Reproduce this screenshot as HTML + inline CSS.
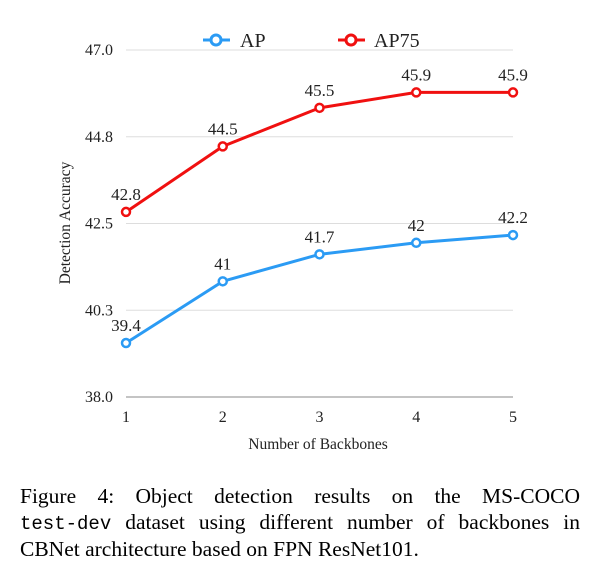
<!DOCTYPE html>
<html><head><meta charset="utf-8"><style>
body{margin:0;background:#fff;width:601px;height:587px;overflow:hidden}
svg text{font-family:"Liberation Serif",serif;fill:#222}
.cap{position:absolute;left:20px;top:484px;width:560px;font-family:"Liberation Serif",serif;font-size:21.5px;line-height:25.5px;color:#000}
.cap div{text-align:justify;text-align-last:justify;white-space:nowrap}
.cap div.last{text-align-last:left}
.mono{font-family:"Liberation Mono",monospace;font-size:19px}
</style></head><body>
<svg id="chart" width="601" height="470" style="position:absolute;left:0;top:0">
<g id="grid"></g>
<g id="yt"></g>
<g id="xt"></g>
<text transform="translate(70,223) rotate(-90)" text-anchor="middle" font-size="15.5">Detection Accuracy</text>
<text x="318" y="449" text-anchor="middle" font-size="15.5">Number of Backbones</text>
<g id="series"></g>
<g>
<g><line x1="203" y1="40" x2="230" y2="40" stroke="#2b9bf4" stroke-width="3"/><circle cx="216" cy="40" r="5" fill="#fff" stroke="#2b9bf4" stroke-width="3"/><text x="240" y="47" font-size="20">AP</text></g>
<g><line x1="338" y1="40" x2="365" y2="40" stroke="#f01010" stroke-width="3"/><circle cx="351" cy="40" r="5" fill="#fff" stroke="#f01010" stroke-width="3"/><text x="374" y="47" font-size="20">AP75</text></g>
</g>
</svg>
<div class="cap"><div>Figure 4: Object detection results on the MS-COCO</div><div><span class="mono">test-dev</span> dataset using different number of backbones in</div><div class="last">CBNet architecture based on FPN ResNet101.</div></div>
<script>
const categories=[1,2,3,4,5];
const apValues=[39.4,41,41.7,42,42.2];
const ap75Values=[42.8,44.5,45.5,45.9,45.9];
const yTicks=[38.0,40.25,42.5,44.75,47.0];
const yTickLabels=["38.0","40.3","42.5","44.8","47.0"];
const NS="http://www.w3.org/2000/svg";
const x0=126,x1=513,yBot=397,yTop=50,yMin=38,yMax=47;
const xs=v=>x0+(v-1)/(5-1)*(x1-x0);
const ys=v=>yBot-(v-yMin)/(yMax-yMin)*(yBot-yTop);
function mk(t,a,p){const e=document.createElementNS(NS,t);for(const k in a)e.setAttribute(k,a[k]);p.appendChild(e);return e;}
const grid=document.getElementById('grid'),yt=document.getElementById('yt'),xt=document.getElementById('xt'),ser=document.getElementById('series');
yTicks.forEach((v,i)=>{
 const l=mk('line',{x1:x0,x2:x1,y1:ys(v),y2:ys(v),stroke:i==0?'#888':'#ddd','stroke-width':1},grid);
 
 
 const t=mk('text',{x:113,y:ys(v)+5,'text-anchor':'end','font-size':16},yt);t.textContent=yTickLabels[i];
 
 
});
categories.forEach(c=>{
 const t=mk('text',{x:xs(c),y:422,'text-anchor':'middle','font-size':16},xt);t.textContent=c;
 
 
});
function draw(vals,color,name){
 const g=mk('g',{},ser);
 
 
 const p=mk('polyline',{points:vals.map((v,i)=>xs(categories[i])+','+ys(v)).join(' '),fill:'none',stroke:color,'stroke-width':3,'stroke-linejoin':'round'},g);
 
 
 vals.forEach((v,i)=>{
  const c=mk('circle',{cx:xs(categories[i]),cy:ys(v),r:4,fill:'#fff',stroke:color,'stroke-width':2.5},g);
  
  
  const t=mk('text',{x:xs(categories[i]),y:ys(v)-12,'text-anchor':'middle','font-size':17},g);t.textContent=v;
  
  
 });
}
draw(apValues,'#2b9bf4','ap');
draw(ap75Values,'#f01010','ap75');
</script>
</body></html>
